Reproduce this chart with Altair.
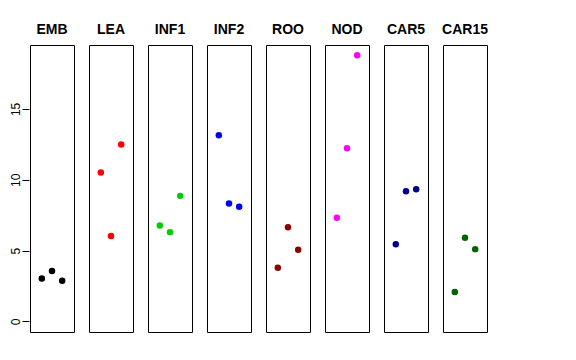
import altair as alt
import pandas as pd

tissues = ["EMB", "LEA", "INF1", "INF2", "ROO", "NOD", "CAR5", "CAR15"]
colors = ["#000000", "#FF0000", "#00CD00", "#0000FF", "#8B0000", "#FF00FF", "#00008B", "#006400"]
positions = [1, 2, 3]
values = {
    "EMB": [3.03, 3.55, 2.87],
    "LEA": [10.51, 6.02, 12.48],
    "INF1": [6.77, 6.30, 8.86],
    "INF2": [13.14, 8.32, 8.09],
    "ROO": [3.78, 6.65, 5.05],
    "NOD": [7.31, 12.22, 18.78],
    "CAR5": [5.45, 9.19, 9.33],
    "CAR15": [2.07, 5.90, 5.10],
}
y_ticks = [0, 5, 10, 15]

rows = []
for t in tissues:
    for p, v in zip(positions, values[t]):
        rows.append({"tissue": t, "pos": p, "value": v})
df = pd.DataFrame(rows)

font = "Liberation Sans"

base = alt.Chart(df).mark_circle(size=42, opacity=1).encode(
    x=alt.X("pos:Q", scale=alt.Scale(domain=[-0.16, 4.16], nice=False, zero=False), axis=None),
    y=alt.Y("value:Q", scale=alt.Scale(domain=[-0.75, 19.51], nice=False, zero=False),
            axis=alt.Axis(values=y_ticks, title=None, labelAngle=-90, tickSize=7,
                          tickColor="black", labelColor="black", labelFont=font,
                          labelFontSize=12, labelPadding=0, domain=False, grid=False,
                          labelAlign="center", labelBaseline="bottom")),
    color=alt.Color("tissue:N", scale=alt.Scale(domain=tissues, range=colors), legend=None),
).properties(width=44, height=287)

chart = base.facet(
    column=alt.Column("tissue:N", sort=tissues,
                      header=alt.Header(title=None, labelFont=font, labelFontSize=14,
                                        labelFontWeight="bold", labelColor="black",
                                        labelPadding=7)),
    spacing=13,
).properties(
    padding={"left": 0, "top": 15, "right": 5, "bottom": 5}
).configure_view(
    stroke="black", strokeWidth=1
)

chart.save("out.html", embed_options={"renderer": "svg", "actions": False})
